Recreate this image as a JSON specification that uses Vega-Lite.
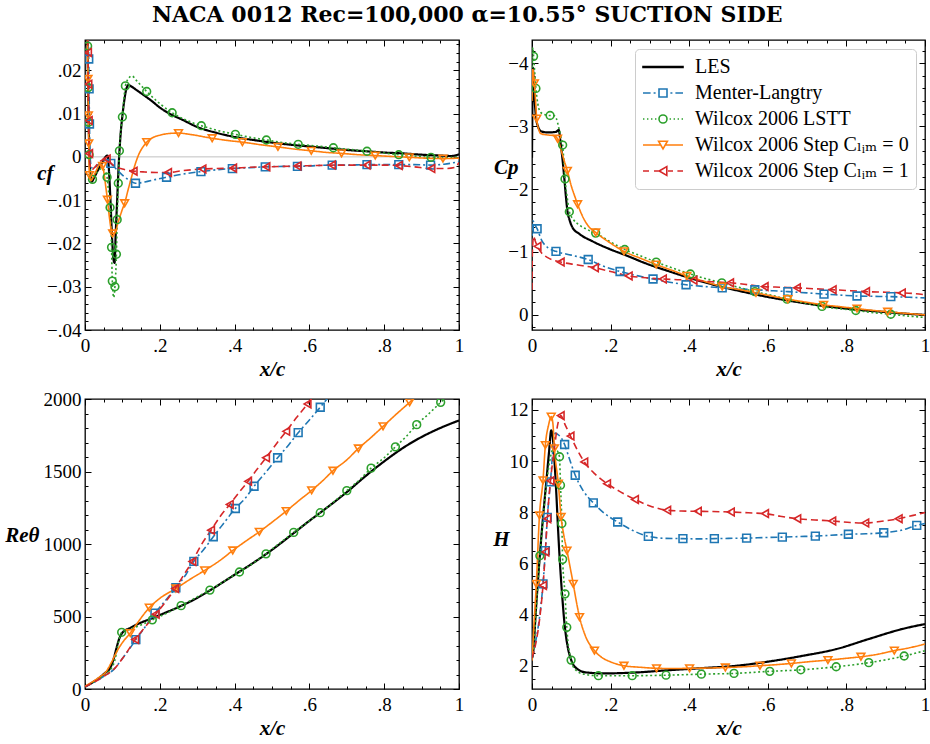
{
  "$schema": "https://vega.github.io/schema/vega-lite/v6.json",
  "padding": {"left": 4, "top": 3, "right": 0, "bottom": 0},
  "title": {"text": "NACA 0012 Rec=100,000 α=10.55° SUCTION SIDE", "anchor": "middle", "offset": 8},
  "datasets": {
    "d": [
      {"p":"cf","m":"L","x":0.002,"y":0.045},{"p":"cf","m":"L","x":0.006,"y":0.03},{"p":"cf","m":"L","x":0.009,"y":0.012},{"p":"cf","m":"L","x":0.012,"y":0.0},{"p":"cf","m":"L","x":0.015,"y":-0.0045},{"p":"cf","m":"L","x":0.018,"y":-0.0057},{"p":"cf","m":"L","x":0.025,"y":-0.0047},{"p":"cf","m":"L","x":0.035,"y":-0.003},{"p":"cf","m":"L","x":0.045,"y":-0.0015},{"p":"cf","m":"L","x":0.055,"y":0.0},{"p":"cf","m":"L","x":0.06,"y":0.0003},{"p":"cf","m":"L","x":0.064,"y":-0.003},{"p":"cf","m":"L","x":0.068,"y":-0.01},{"p":"cf","m":"L","x":0.072,"y":-0.018},{"p":"cf","m":"L","x":0.076,"y":-0.0235},{"p":"cf","m":"L","x":0.079,"y":-0.0245},{"p":"cf","m":"L","x":0.082,"y":-0.018},{"p":"cf","m":"L","x":0.086,"y":-0.01},{"p":"cf","m":"L","x":0.09,"y":-0.002},{"p":"cf","m":"L","x":0.095,"y":0.005},{"p":"cf","m":"L","x":0.1,"y":0.0095},{"p":"cf","m":"L","x":0.105,"y":0.013},{"p":"cf","m":"L","x":0.11,"y":0.0155},{"p":"cf","m":"L","x":0.116,"y":0.0166},{"p":"cf","m":"L","x":0.125,"y":0.0162},{"p":"cf","m":"L","x":0.14,"y":0.0153},{"p":"cf","m":"L","x":0.16,"y":0.0141},{"p":"cf","m":"L","x":0.18,"y":0.0128},{"p":"cf","m":"L","x":0.2,"y":0.0114},{"p":"cf","m":"L","x":0.23,"y":0.0098},{"p":"cf","m":"L","x":0.26,"y":0.0086},{"p":"cf","m":"L","x":0.3,"y":0.0069},{"p":"cf","m":"L","x":0.35,"y":0.0056},{"p":"cf","m":"L","x":0.4,"y":0.0046},{"p":"cf","m":"L","x":0.45,"y":0.0039},{"p":"cf","m":"L","x":0.5,"y":0.0033},{"p":"cf","m":"L","x":0.55,"y":0.0028},{"p":"cf","m":"L","x":0.6,"y":0.0024},{"p":"cf","m":"L","x":0.65,"y":0.002},{"p":"cf","m":"L","x":0.7,"y":0.0016},{"p":"cf","m":"L","x":0.75,"y":0.0013},{"p":"cf","m":"L","x":0.8,"y":0.001},{"p":"cf","m":"L","x":0.85,"y":0.0008},{"p":"cf","m":"L","x":0.9,"y":0.0005},{"p":"cf","m":"L","x":0.95,"y":0.0003},{"p":"cf","m":"L","x":0.98,"y":0.0002},{"p":"cf","m":"L","x":1.0,"y":0.0006},

      {"p":"cf","m":"ML","x":0.002,"y":0.045},{"p":"cf","m":"ML","x":0.008,"y":0.03},{"p":"cf","m":"ML","x":0.01,"y":0.0226,"k":1},{"p":"cf","m":"ML","x":0.011,"y":0.0157,"k":1},{"p":"cf","m":"ML","x":0.012,"y":0.0076,"k":1},{"p":"cf","m":"ML","x":0.0135,"y":0.0005},{"p":"cf","m":"ML","x":0.017,"y":-0.0025},{"p":"cf","m":"ML","x":0.025,"y":-0.0025},{"p":"cf","m":"ML","x":0.035,"y":-0.0018},{"p":"cf","m":"ML","x":0.045,"y":-0.0012},{"p":"cf","m":"ML","x":0.055,"y":-0.0008},{"p":"cf","m":"ML","x":0.062,"y":-0.0008},{"p":"cf","m":"ML","x":0.069,"y":-0.0015,"k":1},{"p":"cf","m":"ML","x":0.08,"y":-0.0025},{"p":"cf","m":"ML","x":0.1,"y":-0.0042},{"p":"cf","m":"ML","x":0.12,"y":-0.0055},{"p":"cf","m":"ML","x":0.135,"y":-0.0061,"k":1},{"p":"cf","m":"ML","x":0.16,"y":-0.0058},{"p":"cf","m":"ML","x":0.19,"y":-0.0052},{"p":"cf","m":"ML","x":0.218,"y":-0.0047,"k":1},{"p":"cf","m":"ML","x":0.26,"y":-0.004},{"p":"cf","m":"ML","x":0.31,"y":-0.0034,"k":1},{"p":"cf","m":"ML","x":0.35,"y":-0.003},{"p":"cf","m":"ML","x":0.394,"y":-0.0027,"k":1},{"p":"cf","m":"ML","x":0.44,"y":-0.0025},{"p":"cf","m":"ML","x":0.482,"y":-0.0023,"k":1},{"p":"cf","m":"ML","x":0.53,"y":-0.0022},{"p":"cf","m":"ML","x":0.568,"y":-0.0022,"k":1},{"p":"cf","m":"ML","x":0.62,"y":-0.002},{"p":"cf","m":"ML","x":0.661,"y":-0.0019,"k":1},{"p":"cf","m":"ML","x":0.7,"y":-0.0019},{"p":"cf","m":"ML","x":0.754,"y":-0.0018,"k":1},{"p":"cf","m":"ML","x":0.8,"y":-0.0018},{"p":"cf","m":"ML","x":0.839,"y":-0.0018,"k":1},{"p":"cf","m":"ML","x":0.88,"y":-0.0018},{"p":"cf","m":"ML","x":0.924,"y":-0.0019,"k":1},{"p":"cf","m":"ML","x":0.96,"y":-0.0017},{"p":"cf","m":"ML","x":1.0,"y":-0.0011},

      {"p":"cf","m":"LSTT","x":0.002,"y":0.045},{"p":"cf","m":"LSTT","x":0.007,"y":0.0256,"k":1},{"p":"cf","m":"LSTT","x":0.0085,"y":0.016,"k":1},{"p":"cf","m":"LSTT","x":0.0095,"y":0.008,"k":1},{"p":"cf","m":"LSTT","x":0.011,"y":0.0005,"k":1},{"p":"cf","m":"LSTT","x":0.015,"y":-0.004},{"p":"cf","m":"LSTT","x":0.02,"y":-0.0052,"k":1},{"p":"cf","m":"LSTT","x":0.03,"y":-0.0038},{"p":"cf","m":"LSTT","x":0.045,"y":-0.0027},{"p":"cf","m":"LSTT","x":0.054,"y":-0.0033},{"p":"cf","m":"LSTT","x":0.059,"y":-0.0047,"k":1},{"p":"cf","m":"LSTT","x":0.063,"y":-0.008},{"p":"cf","m":"LSTT","x":0.067,"y":-0.0117,"k":1},{"p":"cf","m":"LSTT","x":0.071,"y":-0.0209,"k":1},{"p":"cf","m":"LSTT","x":0.073,"y":-0.0287,"k":1},{"p":"cf","m":"LSTT","x":0.077,"y":-0.0325},{"p":"cf","m":"LSTT","x":0.08,"y":-0.03,"k":1},{"p":"cf","m":"LSTT","x":0.084,"y":-0.0225,"k":1},{"p":"cf","m":"LSTT","x":0.086,"y":-0.0145,"k":1},{"p":"cf","m":"LSTT","x":0.089,"y":-0.0061,"k":1},{"p":"cf","m":"LSTT","x":0.092,"y":0.0014,"k":1},{"p":"cf","m":"LSTT","x":0.1,"y":0.0092,"k":1},{"p":"cf","m":"LSTT","x":0.108,"y":0.0164,"k":1},{"p":"cf","m":"LSTT","x":0.118,"y":0.0183},{"p":"cf","m":"LSTT","x":0.125,"y":0.0187},{"p":"cf","m":"LSTT","x":0.14,"y":0.0174},{"p":"cf","m":"LSTT","x":0.165,"y":0.0151,"k":1},{"p":"cf","m":"LSTT","x":0.2,"y":0.0123},{"p":"cf","m":"LSTT","x":0.233,"y":0.0102,"k":1},{"p":"cf","m":"LSTT","x":0.27,"y":0.0085},{"p":"cf","m":"LSTT","x":0.311,"y":0.0072,"k":1},{"p":"cf","m":"LSTT","x":0.35,"y":0.0062},{"p":"cf","m":"LSTT","x":0.402,"y":0.0052,"k":1},{"p":"cf","m":"LSTT","x":0.45,"y":0.0044},{"p":"cf","m":"LSTT","x":0.485,"y":0.0039,"k":1},{"p":"cf","m":"LSTT","x":0.53,"y":0.0033},{"p":"cf","m":"LSTT","x":0.57,"y":0.0029,"k":1},{"p":"cf","m":"LSTT","x":0.62,"y":0.0025},{"p":"cf","m":"LSTT","x":0.664,"y":0.0021,"k":1},{"p":"cf","m":"LSTT","x":0.71,"y":0.0017},{"p":"cf","m":"LSTT","x":0.754,"y":0.0013,"k":1},{"p":"cf","m":"LSTT","x":0.8,"y":0.0009},{"p":"cf","m":"LSTT","x":0.839,"y":0.0005,"k":1},{"p":"cf","m":"LSTT","x":0.88,"y":0.0002},{"p":"cf","m":"LSTT","x":0.925,"y":-0.0001,"k":1},{"p":"cf","m":"LSTT","x":0.96,"y":-0.0002},{"p":"cf","m":"LSTT","x":1.0,"y":0.0},

      {"p":"cf","m":"S0","x":0.002,"y":0.045},{"p":"cf","m":"S0","x":0.007,"y":0.025},{"p":"cf","m":"S0","x":0.008,"y":0.018,"k":1},{"p":"cf","m":"S0","x":0.009,"y":0.0096,"k":1},{"p":"cf","m":"S0","x":0.01,"y":0.0031,"k":1},{"p":"cf","m":"S0","x":0.012,"y":-0.0042,"k":1},{"p":"cf","m":"S0","x":0.016,"y":-0.0055},{"p":"cf","m":"S0","x":0.02,"y":-0.005},{"p":"cf","m":"S0","x":0.03,"y":-0.0032},{"p":"cf","m":"S0","x":0.04,"y":-0.0017},{"p":"cf","m":"S0","x":0.047,"y":-0.0021,"k":1},{"p":"cf","m":"S0","x":0.052,"y":-0.0045},{"p":"cf","m":"S0","x":0.056,"y":-0.0072},{"p":"cf","m":"S0","x":0.06,"y":-0.0099,"k":1},{"p":"cf","m":"S0","x":0.065,"y":-0.0138},{"p":"cf","m":"S0","x":0.07,"y":-0.0168},{"p":"cf","m":"S0","x":0.074,"y":-0.0177,"k":1},{"p":"cf","m":"S0","x":0.08,"y":-0.0174},{"p":"cf","m":"S0","x":0.09,"y":-0.0147},{"p":"cf","m":"S0","x":0.1,"y":-0.0121},{"p":"cf","m":"S0","x":0.106,"y":-0.0107,"k":1},{"p":"cf","m":"S0","x":0.115,"y":-0.0077},{"p":"cf","m":"S0","x":0.125,"y":-0.0045},{"p":"cf","m":"S0","x":0.135,"y":-0.0015},{"p":"cf","m":"S0","x":0.145,"y":0.0008},{"p":"cf","m":"S0","x":0.155,"y":0.0023},{"p":"cf","m":"S0","x":0.165,"y":0.0034,"k":1},{"p":"cf","m":"S0","x":0.18,"y":0.0044},{"p":"cf","m":"S0","x":0.2,"y":0.005},{"p":"cf","m":"S0","x":0.225,"y":0.0054},{"p":"cf","m":"S0","x":0.25,"y":0.0055,"k":1},{"p":"cf","m":"S0","x":0.28,"y":0.0052},{"p":"cf","m":"S0","x":0.34,"y":0.0043,"k":1},{"p":"cf","m":"S0","x":0.38,"y":0.0038},{"p":"cf","m":"S0","x":0.421,"y":0.0034,"k":1},{"p":"cf","m":"S0","x":0.47,"y":0.0028},{"p":"cf","m":"S0","x":0.516,"y":0.0023,"k":1},{"p":"cf","m":"S0","x":0.56,"y":0.0018},{"p":"cf","m":"S0","x":0.605,"y":0.0014,"k":1},{"p":"cf","m":"S0","x":0.65,"y":0.001},{"p":"cf","m":"S0","x":0.686,"y":0.0008,"k":1},{"p":"cf","m":"S0","x":0.73,"y":0.0005},{"p":"cf","m":"S0","x":0.776,"y":0.0003,"k":1},{"p":"cf","m":"S0","x":0.82,"y":0.0001},{"p":"cf","m":"S0","x":0.867,"y":-0.0001,"k":1},{"p":"cf","m":"S0","x":0.91,"y":-0.0003},{"p":"cf","m":"S0","x":0.957,"y":-0.0004,"k":1},{"p":"cf","m":"S0","x":1.0,"y":-0.0003},

      {"p":"cf","m":"S1","x":0.002,"y":0.045},{"p":"cf","m":"S1","x":0.007,"y":0.03},{"p":"cf","m":"S1","x":0.008,"y":0.0241,"k":1},{"p":"cf","m":"S1","x":0.009,"y":0.0168,"k":1},{"p":"cf","m":"S1","x":0.01,"y":0.0084,"k":1},{"p":"cf","m":"S1","x":0.011,"y":0.0008,"k":1},{"p":"cf","m":"S1","x":0.014,"y":-0.002},{"p":"cf","m":"S1","x":0.018,"y":-0.003},{"p":"cf","m":"S1","x":0.025,"y":-0.0025},{"p":"cf","m":"S1","x":0.035,"y":-0.0015},{"p":"cf","m":"S1","x":0.045,"y":-0.0008},{"p":"cf","m":"S1","x":0.058,"y":-0.0005,"k":1},{"p":"cf","m":"S1","x":0.07,"y":-0.0015},{"p":"cf","m":"S1","x":0.08,"y":-0.0022},{"p":"cf","m":"S1","x":0.1,"y":-0.0028},{"p":"cf","m":"S1","x":0.13,"y":-0.0033,"k":1},{"p":"cf","m":"S1","x":0.16,"y":-0.0035},{"p":"cf","m":"S1","x":0.19,"y":-0.0036},{"p":"cf","m":"S1","x":0.222,"y":-0.0036,"k":1},{"p":"cf","m":"S1","x":0.26,"y":-0.0032},{"p":"cf","m":"S1","x":0.314,"y":-0.0028,"k":1},{"p":"cf","m":"S1","x":0.35,"y":-0.0027},{"p":"cf","m":"S1","x":0.396,"y":-0.0026,"k":1},{"p":"cf","m":"S1","x":0.44,"y":-0.0024},{"p":"cf","m":"S1","x":0.485,"y":-0.0023,"k":1},{"p":"cf","m":"S1","x":0.53,"y":-0.0022},{"p":"cf","m":"S1","x":0.568,"y":-0.0021,"k":1},{"p":"cf","m":"S1","x":0.62,"y":-0.002},{"p":"cf","m":"S1","x":0.66,"y":-0.0019,"k":1},{"p":"cf","m":"S1","x":0.7,"y":-0.0019},{"p":"cf","m":"S1","x":0.753,"y":-0.0019,"k":1},{"p":"cf","m":"S1","x":0.8,"y":-0.0019},{"p":"cf","m":"S1","x":0.839,"y":-0.002,"k":1},{"p":"cf","m":"S1","x":0.88,"y":-0.0023},{"p":"cf","m":"S1","x":0.926,"y":-0.0027,"k":1},{"p":"cf","m":"S1","x":0.96,"y":-0.0027},{"p":"cf","m":"S1","x":0.99,"y":-0.0024},{"p":"cf","m":"S1","x":1.0,"y":-0.0013},

      {"p":"cp","m":"L","x":0.0,"y":-2.5},{"p":"cp","m":"L","x":0.001,"y":-3.3},{"p":"cp","m":"L","x":0.002,"y":-3.93},{"p":"cp","m":"L","x":0.005,"y":-3.6},{"p":"cp","m":"L","x":0.01,"y":-3.15},{"p":"cp","m":"L","x":0.015,"y":-3.0},{"p":"cp","m":"L","x":0.023,"y":-2.92},{"p":"cp","m":"L","x":0.04,"y":-2.9},{"p":"cp","m":"L","x":0.061,"y":-2.91},{"p":"cp","m":"L","x":0.068,"y":-2.94},{"p":"cp","m":"L","x":0.073,"y":-2.72},{"p":"cp","m":"L","x":0.078,"y":-2.45},{"p":"cp","m":"L","x":0.082,"y":-2.19},{"p":"cp","m":"L","x":0.086,"y":-1.9},{"p":"cp","m":"L","x":0.09,"y":-1.66},{"p":"cp","m":"L","x":0.096,"y":-1.5},{"p":"cp","m":"L","x":0.103,"y":-1.39},{"p":"cp","m":"L","x":0.12,"y":-1.29},{"p":"cp","m":"L","x":0.154,"y":-1.17},{"p":"cp","m":"L","x":0.2,"y":-1.04},{"p":"cp","m":"L","x":0.238,"y":-0.95},{"p":"cp","m":"L","x":0.289,"y":-0.82},{"p":"cp","m":"L","x":0.35,"y":-0.69},{"p":"cp","m":"L","x":0.4,"y":-0.59},{"p":"cp","m":"L","x":0.45,"y":-0.5},{"p":"cp","m":"L","x":0.5,"y":-0.42},{"p":"cp","m":"L","x":0.55,"y":-0.35},{"p":"cp","m":"L","x":0.6,"y":-0.285},{"p":"cp","m":"L","x":0.65,"y":-0.23},{"p":"cp","m":"L","x":0.7,"y":-0.18},{"p":"cp","m":"L","x":0.75,"y":-0.135},{"p":"cp","m":"L","x":0.8,"y":-0.1},{"p":"cp","m":"L","x":0.85,"y":-0.07},{"p":"cp","m":"L","x":0.9,"y":-0.045},{"p":"cp","m":"L","x":0.95,"y":-0.02},{"p":"cp","m":"L","x":1.0,"y":0.0},

      {"p":"cp","m":"ML","x":0.0,"y":-1.1},{"p":"cp","m":"ML","x":0.002,"y":-1.5},{"p":"cp","m":"ML","x":0.006,"y":-1.45},{"p":"cp","m":"ML","x":0.013,"y":-1.37,"k":1},{"p":"cp","m":"ML","x":0.025,"y":-1.18},{"p":"cp","m":"ML","x":0.04,"y":-1.07},{"p":"cp","m":"ML","x":0.061,"y":-1.01,"k":1},{"p":"cp","m":"ML","x":0.1,"y":-0.95},{"p":"cp","m":"ML","x":0.143,"y":-0.88,"k":1},{"p":"cp","m":"ML","x":0.18,"y":-0.78},{"p":"cp","m":"ML","x":0.224,"y":-0.69,"k":1},{"p":"cp","m":"ML","x":0.27,"y":-0.62},{"p":"cp","m":"ML","x":0.308,"y":-0.57,"k":1},{"p":"cp","m":"ML","x":0.35,"y":-0.52},{"p":"cp","m":"ML","x":0.392,"y":-0.48,"k":1},{"p":"cp","m":"ML","x":0.44,"y":-0.45},{"p":"cp","m":"ML","x":0.484,"y":-0.43,"k":1},{"p":"cp","m":"ML","x":0.525,"y":-0.415},{"p":"cp","m":"ML","x":0.567,"y":-0.4,"k":1},{"p":"cp","m":"ML","x":0.61,"y":-0.385},{"p":"cp","m":"ML","x":0.651,"y":-0.37,"k":1},{"p":"cp","m":"ML","x":0.7,"y":-0.35},{"p":"cp","m":"ML","x":0.743,"y":-0.33,"k":1},{"p":"cp","m":"ML","x":0.785,"y":-0.315},{"p":"cp","m":"ML","x":0.827,"y":-0.3,"k":1},{"p":"cp","m":"ML","x":0.87,"y":-0.295},{"p":"cp","m":"ML","x":0.913,"y":-0.29,"k":1},{"p":"cp","m":"ML","x":0.96,"y":-0.28},{"p":"cp","m":"ML","x":1.0,"y":-0.27},

      {"p":"cp","m":"LSTT","x":0.0,"y":-3.5},{"p":"cp","m":"LSTT","x":0.002,"y":-4.25},{"p":"cp","m":"LSTT","x":0.004,"y":-4.11,"k":1},{"p":"cp","m":"LSTT","x":0.007,"y":-3.85},{"p":"cp","m":"LSTT","x":0.01,"y":-3.6,"k":1},{"p":"cp","m":"LSTT","x":0.015,"y":-3.35},{"p":"cp","m":"LSTT","x":0.022,"y":-3.22},{"p":"cp","m":"LSTT","x":0.035,"y":-3.18},{"p":"cp","m":"LSTT","x":0.046,"y":-3.17,"k":1},{"p":"cp","m":"LSTT","x":0.055,"y":-3.17},{"p":"cp","m":"LSTT","x":0.062,"y":-3.12},{"p":"cp","m":"LSTT","x":0.068,"y":-2.98},{"p":"cp","m":"LSTT","x":0.074,"y":-2.82},{"p":"cp","m":"LSTT","x":0.078,"y":-2.7,"k":1},{"p":"cp","m":"LSTT","x":0.081,"y":-2.45},{"p":"cp","m":"LSTT","x":0.084,"y":-2.16,"k":1},{"p":"cp","m":"LSTT","x":0.09,"y":-1.85},{"p":"cp","m":"LSTT","x":0.095,"y":-1.64,"k":1},{"p":"cp","m":"LSTT","x":0.105,"y":-1.52},{"p":"cp","m":"LSTT","x":0.12,"y":-1.43},{"p":"cp","m":"LSTT","x":0.14,"y":-1.36},{"p":"cp","m":"LSTT","x":0.162,"y":-1.3,"k":1},{"p":"cp","m":"LSTT","x":0.2,"y":-1.16},{"p":"cp","m":"LSTT","x":0.236,"y":-1.04,"k":1},{"p":"cp","m":"LSTT","x":0.28,"y":-0.93},{"p":"cp","m":"LSTT","x":0.316,"y":-0.84,"k":1},{"p":"cp","m":"LSTT","x":0.36,"y":-0.74},{"p":"cp","m":"LSTT","x":0.403,"y":-0.65,"k":1},{"p":"cp","m":"LSTT","x":0.44,"y":-0.58},{"p":"cp","m":"LSTT","x":0.483,"y":-0.51,"k":1},{"p":"cp","m":"LSTT","x":0.525,"y":-0.44},{"p":"cp","m":"LSTT","x":0.567,"y":-0.37,"k":1},{"p":"cp","m":"LSTT","x":0.61,"y":-0.31},{"p":"cp","m":"LSTT","x":0.649,"y":-0.25,"k":1},{"p":"cp","m":"LSTT","x":0.7,"y":-0.18},{"p":"cp","m":"LSTT","x":0.738,"y":-0.135,"k":1},{"p":"cp","m":"LSTT","x":0.78,"y":-0.1},{"p":"cp","m":"LSTT","x":0.824,"y":-0.07,"k":1},{"p":"cp","m":"LSTT","x":0.87,"y":-0.035},{"p":"cp","m":"LSTT","x":0.913,"y":-0.01,"k":1},{"p":"cp","m":"LSTT","x":0.96,"y":0.02},{"p":"cp","m":"LSTT","x":1.0,"y":0.04},

      {"p":"cp","m":"S0","x":0.0,"y":-3.4},{"p":"cp","m":"S0","x":0.002,"y":-3.9},{"p":"cp","m":"S0","x":0.006,"y":-3.68,"k":1},{"p":"cp","m":"S0","x":0.009,"y":-3.4},{"p":"cp","m":"S0","x":0.012,"y":-3.12,"k":1},{"p":"cp","m":"S0","x":0.017,"y":-2.95},{"p":"cp","m":"S0","x":0.023,"y":-2.88},{"p":"cp","m":"S0","x":0.04,"y":-2.86},{"p":"cp","m":"S0","x":0.055,"y":-2.85},{"p":"cp","m":"S0","x":0.065,"y":-2.8,"k":1},{"p":"cp","m":"S0","x":0.075,"y":-2.6},{"p":"cp","m":"S0","x":0.082,"y":-2.45},{"p":"cp","m":"S0","x":0.09,"y":-2.29,"k":1},{"p":"cp","m":"S0","x":0.1,"y":-2.05},{"p":"cp","m":"S0","x":0.108,"y":-1.9},{"p":"cp","m":"S0","x":0.116,"y":-1.76,"k":1},{"p":"cp","m":"S0","x":0.13,"y":-1.55},{"p":"cp","m":"S0","x":0.145,"y":-1.4},{"p":"cp","m":"S0","x":0.162,"y":-1.31,"k":1},{"p":"cp","m":"S0","x":0.2,"y":-1.14},{"p":"cp","m":"S0","x":0.234,"y":-1.01,"k":1},{"p":"cp","m":"S0","x":0.28,"y":-0.89},{"p":"cp","m":"S0","x":0.316,"y":-0.8,"k":1},{"p":"cp","m":"S0","x":0.36,"y":-0.7},{"p":"cp","m":"S0","x":0.394,"y":-0.62,"k":1},{"p":"cp","m":"S0","x":0.44,"y":-0.53},{"p":"cp","m":"S0","x":0.484,"y":-0.45,"k":1},{"p":"cp","m":"S0","x":0.53,"y":-0.4},{"p":"cp","m":"S0","x":0.57,"y":-0.35,"k":1},{"p":"cp","m":"S0","x":0.61,"y":-0.3},{"p":"cp","m":"S0","x":0.651,"y":-0.25,"k":1},{"p":"cp","m":"S0","x":0.7,"y":-0.2},{"p":"cp","m":"S0","x":0.742,"y":-0.16,"k":1},{"p":"cp","m":"S0","x":0.785,"y":-0.13},{"p":"cp","m":"S0","x":0.827,"y":-0.1,"k":1},{"p":"cp","m":"S0","x":0.87,"y":-0.07},{"p":"cp","m":"S0","x":0.905,"y":-0.05,"k":1},{"p":"cp","m":"S0","x":0.95,"y":-0.025},{"p":"cp","m":"S0","x":1.0,"y":0.0},

      {"p":"cp","m":"S1","x":0.0,"y":-0.4},{"p":"cp","m":"S1","x":0.001,"y":-1.0},{"p":"cp","m":"S1","x":0.004,"y":-1.25},{"p":"cp","m":"S1","x":0.008,"y":-1.18},{"p":"cp","m":"S1","x":0.014,"y":-1.09,"k":1},{"p":"cp","m":"S1","x":0.025,"y":-0.98},{"p":"cp","m":"S1","x":0.04,"y":-0.91},{"p":"cp","m":"S1","x":0.073,"y":-0.84,"k":1},{"p":"cp","m":"S1","x":0.11,"y":-0.8},{"p":"cp","m":"S1","x":0.16,"y":-0.75,"k":1},{"p":"cp","m":"S1","x":0.2,"y":-0.69},{"p":"cp","m":"S1","x":0.246,"y":-0.62,"k":1},{"p":"cp","m":"S1","x":0.29,"y":-0.59},{"p":"cp","m":"S1","x":0.333,"y":-0.57,"k":1},{"p":"cp","m":"S1","x":0.37,"y":-0.56},{"p":"cp","m":"S1","x":0.411,"y":-0.55,"k":1},{"p":"cp","m":"S1","x":0.45,"y":-0.53},{"p":"cp","m":"S1","x":0.504,"y":-0.51,"k":1},{"p":"cp","m":"S1","x":0.55,"y":-0.48},{"p":"cp","m":"S1","x":0.592,"y":-0.45,"k":1},{"p":"cp","m":"S1","x":0.63,"y":-0.44},{"p":"cp","m":"S1","x":0.674,"y":-0.43,"k":1},{"p":"cp","m":"S1","x":0.72,"y":-0.415},{"p":"cp","m":"S1","x":0.765,"y":-0.4,"k":1},{"p":"cp","m":"S1","x":0.81,"y":-0.385},{"p":"cp","m":"S1","x":0.85,"y":-0.37,"k":1},{"p":"cp","m":"S1","x":0.9,"y":-0.36},{"p":"cp","m":"S1","x":0.941,"y":-0.35,"k":1},{"p":"cp","m":"S1","x":0.97,"y":-0.34},{"p":"cp","m":"S1","x":1.0,"y":-0.32},

      {"p":"re","m":"L","x":0.0,"y":15},{"p":"re","m":"L","x":0.02,"y":45},{"p":"re","m":"L","x":0.04,"y":80},{"p":"re","m":"L","x":0.055,"y":114},{"p":"re","m":"L","x":0.065,"y":135},{"p":"re","m":"L","x":0.07,"y":160},{"p":"re","m":"L","x":0.078,"y":220},{"p":"re","m":"L","x":0.085,"y":290},{"p":"re","m":"L","x":0.092,"y":350},{"p":"re","m":"L","x":0.1,"y":388},{"p":"re","m":"L","x":0.12,"y":420},{"p":"re","m":"L","x":0.15,"y":458},{"p":"re","m":"L","x":0.18,"y":488},{"p":"re","m":"L","x":0.2,"y":510},{"p":"re","m":"L","x":0.25,"y":565},{"p":"re","m":"L","x":0.3,"y":628},{"p":"re","m":"L","x":0.334,"y":680},{"p":"re","m":"L","x":0.4,"y":788},{"p":"re","m":"L","x":0.45,"y":870},{"p":"re","m":"L","x":0.5,"y":960},{"p":"re","m":"L","x":0.558,"y":1075},{"p":"re","m":"L","x":0.6,"y":1160},{"p":"re","m":"L","x":0.629,"y":1216},{"p":"re","m":"L","x":0.7,"y":1358},{"p":"re","m":"L","x":0.75,"y":1468},{"p":"re","m":"L","x":0.8,"y":1570},{"p":"re","m":"L","x":0.85,"y":1662},{"p":"re","m":"L","x":0.9,"y":1738},{"p":"re","m":"L","x":0.95,"y":1800},{"p":"re","m":"L","x":1.0,"y":1852},

      {"p":"re","m":"ML","x":0.0,"y":15},{"p":"re","m":"ML","x":0.03,"y":55},{"p":"re","m":"ML","x":0.055,"y":95},{"p":"re","m":"ML","x":0.075,"y":130},{"p":"re","m":"ML","x":0.1,"y":210},{"p":"re","m":"ML","x":0.12,"y":280},{"p":"re","m":"ML","x":0.136,"y":341,"k":1},{"p":"re","m":"ML","x":0.16,"y":425},{"p":"re","m":"ML","x":0.187,"y":523,"k":1},{"p":"re","m":"ML","x":0.215,"y":610},{"p":"re","m":"ML","x":0.243,"y":698,"k":1},{"p":"re","m":"ML","x":0.27,"y":790},{"p":"re","m":"ML","x":0.291,"y":880,"k":1},{"p":"re","m":"ML","x":0.32,"y":970},{"p":"re","m":"ML","x":0.343,"y":1050,"k":1},{"p":"re","m":"ML","x":0.37,"y":1140},{"p":"re","m":"ML","x":0.402,"y":1245,"k":1},{"p":"re","m":"ML","x":0.43,"y":1320},{"p":"re","m":"ML","x":0.452,"y":1398,"k":1},{"p":"re","m":"ML","x":0.485,"y":1500},{"p":"re","m":"ML","x":0.515,"y":1595,"k":1},{"p":"re","m":"ML","x":0.545,"y":1685},{"p":"re","m":"ML","x":0.57,"y":1768,"k":1},{"p":"re","m":"ML","x":0.6,"y":1855},{"p":"re","m":"ML","x":0.629,"y":1943,"k":1},{"p":"re","m":"ML","x":0.65,"y":2010},

      {"p":"re","m":"LSTT","x":0.0,"y":15},{"p":"re","m":"LSTT","x":0.03,"y":60},{"p":"re","m":"LSTT","x":0.055,"y":105},{"p":"re","m":"LSTT","x":0.07,"y":140},{"p":"re","m":"LSTT","x":0.08,"y":200},{"p":"re","m":"LSTT","x":0.09,"y":330},{"p":"re","m":"LSTT","x":0.098,"y":391,"k":1},{"p":"re","m":"LSTT","x":0.12,"y":412},{"p":"re","m":"LSTT","x":0.15,"y":442},{"p":"re","m":"LSTT","x":0.18,"y":477,"k":1},{"p":"re","m":"LSTT","x":0.22,"y":525},{"p":"re","m":"LSTT","x":0.257,"y":575,"k":1},{"p":"re","m":"LSTT","x":0.3,"y":635},{"p":"re","m":"LSTT","x":0.334,"y":682,"k":1},{"p":"re","m":"LSTT","x":0.37,"y":740},{"p":"re","m":"LSTT","x":0.413,"y":807,"k":1},{"p":"re","m":"LSTT","x":0.45,"y":868},{"p":"re","m":"LSTT","x":0.484,"y":932,"k":1},{"p":"re","m":"LSTT","x":0.52,"y":1005},{"p":"re","m":"LSTT","x":0.558,"y":1080,"k":1},{"p":"re","m":"LSTT","x":0.6,"y":1160},{"p":"re","m":"LSTT","x":0.629,"y":1216,"k":1},{"p":"re","m":"LSTT","x":0.665,"y":1290},{"p":"re","m":"LSTT","x":0.7,"y":1368,"k":1},{"p":"re","m":"LSTT","x":0.735,"y":1445},{"p":"re","m":"LSTT","x":0.765,"y":1523,"k":1},{"p":"re","m":"LSTT","x":0.8,"y":1595},{"p":"re","m":"LSTT","x":0.83,"y":1670,"k":1},{"p":"re","m":"LSTT","x":0.86,"y":1745},{"p":"re","m":"LSTT","x":0.887,"y":1823,"k":1},{"p":"re","m":"LSTT","x":0.92,"y":1900},{"p":"re","m":"LSTT","x":0.951,"y":1977,"k":1},{"p":"re","m":"LSTT","x":0.98,"y":2050},

      {"p":"re","m":"S0","x":0.0,"y":20},{"p":"re","m":"S0","x":0.02,"y":50},{"p":"re","m":"S0","x":0.04,"y":85},{"p":"re","m":"S0","x":0.055,"y":115},{"p":"re","m":"S0","x":0.07,"y":180},{"p":"re","m":"S0","x":0.085,"y":258},{"p":"re","m":"S0","x":0.1,"y":320},{"p":"re","m":"S0","x":0.121,"y":386,"k":1},{"p":"re","m":"S0","x":0.14,"y":455},{"p":"re","m":"S0","x":0.172,"y":561,"k":1},{"p":"re","m":"S0","x":0.2,"y":625},{"p":"re","m":"S0","x":0.243,"y":693,"k":1},{"p":"re","m":"S0","x":0.28,"y":755},{"p":"re","m":"S0","x":0.32,"y":818,"k":1},{"p":"re","m":"S0","x":0.36,"y":885},{"p":"re","m":"S0","x":0.395,"y":955,"k":1},{"p":"re","m":"S0","x":0.43,"y":1020},{"p":"re","m":"S0","x":0.466,"y":1084,"k":1},{"p":"re","m":"S0","x":0.5,"y":1150},{"p":"re","m":"S0","x":0.538,"y":1227,"k":1},{"p":"re","m":"S0","x":0.57,"y":1295},{"p":"re","m":"S0","x":0.606,"y":1370,"k":1},{"p":"re","m":"S0","x":0.635,"y":1435},{"p":"re","m":"S0","x":0.663,"y":1505,"k":1},{"p":"re","m":"S0","x":0.7,"y":1580},{"p":"re","m":"S0","x":0.731,"y":1659,"k":1},{"p":"re","m":"S0","x":0.765,"y":1735},{"p":"re","m":"S0","x":0.797,"y":1811,"k":1},{"p":"re","m":"S0","x":0.83,"y":1890},{"p":"re","m":"S0","x":0.868,"y":1977,"k":1},{"p":"re","m":"S0","x":0.89,"y":2030},

      {"p":"re","m":"S1","x":0.0,"y":15},{"p":"re","m":"S1","x":0.03,"y":55},{"p":"re","m":"S1","x":0.055,"y":95},{"p":"re","m":"S1","x":0.075,"y":130},{"p":"re","m":"S1","x":0.1,"y":210},{"p":"re","m":"S1","x":0.12,"y":285},{"p":"re","m":"S1","x":0.134,"y":341,"k":1},{"p":"re","m":"S1","x":0.16,"y":425},{"p":"re","m":"S1","x":0.189,"y":516,"k":1},{"p":"re","m":"S1","x":0.215,"y":600},{"p":"re","m":"S1","x":0.241,"y":693,"k":1},{"p":"re","m":"S1","x":0.265,"y":790},{"p":"re","m":"S1","x":0.287,"y":880,"k":1},{"p":"re","m":"S1","x":0.31,"y":990},{"p":"re","m":"S1","x":0.337,"y":1095,"k":1},{"p":"re","m":"S1","x":0.36,"y":1185},{"p":"re","m":"S1","x":0.387,"y":1273,"k":1},{"p":"re","m":"S1","x":0.41,"y":1350},{"p":"re","m":"S1","x":0.436,"y":1432,"k":1},{"p":"re","m":"S1","x":0.46,"y":1515},{"p":"re","m":"S1","x":0.484,"y":1595,"k":1},{"p":"re","m":"S1","x":0.51,"y":1685},{"p":"re","m":"S1","x":0.538,"y":1777,"k":1},{"p":"re","m":"S1","x":0.565,"y":1870},{"p":"re","m":"S1","x":0.595,"y":1966,"k":1},{"p":"re","m":"S1","x":0.61,"y":2020},

      {"p":"h","m":"L","x":0.0,"y":2.3},{"p":"h","m":"L","x":0.0025,"y":2.46},{"p":"h","m":"L","x":0.01,"y":4.2},{"p":"h","m":"L","x":0.019,"y":6.12},{"p":"h","m":"L","x":0.028,"y":7.8},{"p":"h","m":"L","x":0.036,"y":9.13},{"p":"h","m":"L","x":0.043,"y":10.3},{"p":"h","m":"L","x":0.049,"y":11.2},{"p":"h","m":"L","x":0.053,"y":10.9},{"p":"h","m":"L","x":0.057,"y":10.04},{"p":"h","m":"L","x":0.062,"y":8.7},{"p":"h","m":"L","x":0.066,"y":7.43},{"p":"h","m":"L","x":0.07,"y":6.3},{"p":"h","m":"L","x":0.074,"y":5.33},{"p":"h","m":"L","x":0.078,"y":4.5},{"p":"h","m":"L","x":0.082,"y":3.76},{"p":"h","m":"L","x":0.087,"y":3.1},{"p":"h","m":"L","x":0.091,"y":2.72},{"p":"h","m":"L","x":0.097,"y":2.35},{"p":"h","m":"L","x":0.103,"y":2.1},{"p":"h","m":"L","x":0.115,"y":1.88},{"p":"h","m":"L","x":0.137,"y":1.74},{"p":"h","m":"L","x":0.184,"y":1.7},{"p":"h","m":"L","x":0.268,"y":1.74},{"p":"h","m":"L","x":0.352,"y":1.83},{"p":"h","m":"L","x":0.437,"y":1.91},{"p":"h","m":"L","x":0.521,"y":2.0},{"p":"h","m":"L","x":0.605,"y":2.17},{"p":"h","m":"L","x":0.69,"y":2.39},{"p":"h","m":"L","x":0.774,"y":2.65},{"p":"h","m":"L","x":0.858,"y":3.05},{"p":"h","m":"L","x":0.943,"y":3.44},{"p":"h","m":"L","x":1.0,"y":3.63},

      {"p":"h","m":"ML","x":0.0,"y":2.3},{"p":"h","m":"ML","x":0.01,"y":3.0},{"p":"h","m":"ML","x":0.02,"y":4.0},{"p":"h","m":"ML","x":0.028,"y":5.2,"k":1},{"p":"h","m":"ML","x":0.034,"y":6.5,"k":1},{"p":"h","m":"ML","x":0.039,"y":7.8,"k":1},{"p":"h","m":"ML","x":0.047,"y":9.19,"k":1},{"p":"h","m":"ML","x":0.053,"y":10.4},{"p":"h","m":"ML","x":0.059,"y":11.1},{"p":"h","m":"ML","x":0.065,"y":11.05},{"p":"h","m":"ML","x":0.075,"y":10.9},{"p":"h","m":"ML","x":0.083,"y":10.65,"k":1},{"p":"h","m":"ML","x":0.095,"y":10.1},{"p":"h","m":"ML","x":0.11,"y":9.45,"k":1},{"p":"h","m":"ML","x":0.13,"y":8.85},{"p":"h","m":"ML","x":0.156,"y":8.37,"k":1},{"p":"h","m":"ML","x":0.185,"y":7.95},{"p":"h","m":"ML","x":0.218,"y":7.62,"k":1},{"p":"h","m":"ML","x":0.255,"y":7.3},{"p":"h","m":"ML","x":0.296,"y":7.06,"k":1},{"p":"h","m":"ML","x":0.34,"y":6.98},{"p":"h","m":"ML","x":0.384,"y":6.97,"k":1},{"p":"h","m":"ML","x":0.42,"y":6.96},{"p":"h","m":"ML","x":0.464,"y":6.97,"k":1},{"p":"h","m":"ML","x":0.5,"y":6.98},{"p":"h","m":"ML","x":0.546,"y":6.99,"k":1},{"p":"h","m":"ML","x":0.59,"y":7.01},{"p":"h","m":"ML","x":0.637,"y":7.03,"k":1},{"p":"h","m":"ML","x":0.68,"y":7.05},{"p":"h","m":"ML","x":0.721,"y":7.07,"k":1},{"p":"h","m":"ML","x":0.76,"y":7.1},{"p":"h","m":"ML","x":0.805,"y":7.14,"k":1},{"p":"h","m":"ML","x":0.85,"y":7.16},{"p":"h","m":"ML","x":0.895,"y":7.2,"k":1},{"p":"h","m":"ML","x":0.94,"y":7.3},{"p":"h","m":"ML","x":0.979,"y":7.49,"k":1},{"p":"h","m":"ML","x":1.0,"y":7.56},

      {"p":"h","m":"LSTT","x":0.0,"y":2.3},{"p":"h","m":"LSTT","x":0.0025,"y":2.4},{"p":"h","m":"LSTT","x":0.01,"y":4.0},{"p":"h","m":"LSTT","x":0.02,"y":6.3,"k":1},{"p":"h","m":"LSTT","x":0.028,"y":7.7},{"p":"h","m":"LSTT","x":0.036,"y":9.0},{"p":"h","m":"LSTT","x":0.045,"y":10.0},{"p":"h","m":"LSTT","x":0.055,"y":10.5},{"p":"h","m":"LSTT","x":0.062,"y":10.45},{"p":"h","m":"LSTT","x":0.07,"y":10.17,"k":1},{"p":"h","m":"LSTT","x":0.0725,"y":9.06,"k":1},{"p":"h","m":"LSTT","x":0.076,"y":7.56,"k":1},{"p":"h","m":"LSTT","x":0.078,"y":6.16,"k":1},{"p":"h","m":"LSTT","x":0.084,"y":4.81,"k":1},{"p":"h","m":"LSTT","x":0.0885,"y":3.5,"k":1},{"p":"h","m":"LSTT","x":0.0995,"y":2.22,"k":1},{"p":"h","m":"LSTT","x":0.11,"y":1.85},{"p":"h","m":"LSTT","x":0.13,"y":1.68},{"p":"h","m":"LSTT","x":0.169,"y":1.61,"k":1},{"p":"h","m":"LSTT","x":0.255,"y":1.61,"k":1},{"p":"h","m":"LSTT","x":0.341,"y":1.63,"k":1},{"p":"h","m":"LSTT","x":0.431,"y":1.67,"k":1},{"p":"h","m":"LSTT","x":0.514,"y":1.7,"k":1},{"p":"h","m":"LSTT","x":0.605,"y":1.78,"k":1},{"p":"h","m":"LSTT","x":0.684,"y":1.84,"k":1},{"p":"h","m":"LSTT","x":0.774,"y":1.96,"k":1},{"p":"h","m":"LSTT","x":0.857,"y":2.12,"k":1},{"p":"h","m":"LSTT","x":0.947,"y":2.38,"k":1},{"p":"h","m":"LSTT","x":1.0,"y":2.59},

      {"p":"h","m":"S0","x":0.0,"y":2.2},{"p":"h","m":"S0","x":0.005,"y":3.6},{"p":"h","m":"S0","x":0.011,"y":5.2,"k":1},{"p":"h","m":"S0","x":0.019,"y":7.88,"k":1},{"p":"h","m":"S0","x":0.028,"y":9.25,"k":1},{"p":"h","m":"S0","x":0.034,"y":10.63,"k":1},{"p":"h","m":"S0","x":0.042,"y":11.4},{"p":"h","m":"S0","x":0.049,"y":11.74,"k":1},{"p":"h","m":"S0","x":0.053,"y":11.5},{"p":"h","m":"S0","x":0.057,"y":10.5,"k":1},{"p":"h","m":"S0","x":0.067,"y":9.12,"k":1},{"p":"h","m":"S0","x":0.074,"y":7.82,"k":1},{"p":"h","m":"S0","x":0.081,"y":7.1},{"p":"h","m":"S0","x":0.089,"y":6.5,"k":1},{"p":"h","m":"S0","x":0.097,"y":5.85},{"p":"h","m":"S0","x":0.105,"y":5.2,"k":1},{"p":"h","m":"S0","x":0.113,"y":4.5},{"p":"h","m":"S0","x":0.121,"y":3.9,"k":1},{"p":"h","m":"S0","x":0.135,"y":3.2},{"p":"h","m":"S0","x":0.159,"y":2.59,"k":1},{"p":"h","m":"S0","x":0.18,"y":2.3},{"p":"h","m":"S0","x":0.2,"y":2.15},{"p":"h","m":"S0","x":0.234,"y":2.0,"k":1},{"p":"h","m":"S0","x":0.275,"y":1.94},{"p":"h","m":"S0","x":0.317,"y":1.9,"k":1},{"p":"h","m":"S0","x":0.36,"y":1.89},{"p":"h","m":"S0","x":0.401,"y":1.9,"k":1},{"p":"h","m":"S0","x":0.45,"y":1.91},{"p":"h","m":"S0","x":0.492,"y":1.93,"k":1},{"p":"h","m":"S0","x":0.54,"y":1.96},{"p":"h","m":"S0","x":0.58,"y":2.0,"k":1},{"p":"h","m":"S0","x":0.62,"y":2.04},{"p":"h","m":"S0","x":0.66,"y":2.09,"k":1},{"p":"h","m":"S0","x":0.7,"y":2.15},{"p":"h","m":"S0","x":0.753,"y":2.22,"k":1},{"p":"h","m":"S0","x":0.8,"y":2.29},{"p":"h","m":"S0","x":0.837,"y":2.35,"k":1},{"p":"h","m":"S0","x":0.88,"y":2.45},{"p":"h","m":"S0","x":0.922,"y":2.59,"k":1},{"p":"h","m":"S0","x":0.96,"y":2.7},{"p":"h","m":"S0","x":1.0,"y":2.85},

      {"p":"h","m":"S1","x":0.0,"y":2.3},{"p":"h","m":"S1","x":0.01,"y":2.9},{"p":"h","m":"S1","x":0.02,"y":3.9},{"p":"h","m":"S1","x":0.028,"y":5.14,"k":1},{"p":"h","m":"S1","x":0.034,"y":6.45,"k":1},{"p":"h","m":"S1","x":0.039,"y":7.75,"k":1},{"p":"h","m":"S1","x":0.047,"y":9.23,"k":1},{"p":"h","m":"S1","x":0.057,"y":10.5},{"p":"h","m":"S1","x":0.065,"y":11.4},{"p":"h","m":"S1","x":0.073,"y":11.78,"k":1},{"p":"h","m":"S1","x":0.085,"y":11.4},{"p":"h","m":"S1","x":0.098,"y":10.98,"k":1},{"p":"h","m":"S1","x":0.115,"y":10.45},{"p":"h","m":"S1","x":0.133,"y":9.97,"k":1},{"p":"h","m":"S1","x":0.16,"y":9.5},{"p":"h","m":"S1","x":0.191,"y":9.12,"k":1},{"p":"h","m":"S1","x":0.225,"y":8.8},{"p":"h","m":"S1","x":0.262,"y":8.5,"k":1},{"p":"h","m":"S1","x":0.3,"y":8.25},{"p":"h","m":"S1","x":0.344,"y":8.08,"k":1},{"p":"h","m":"S1","x":0.38,"y":8.05},{"p":"h","m":"S1","x":0.422,"y":8.04,"k":1},{"p":"h","m":"S1","x":0.46,"y":8.03},{"p":"h","m":"S1","x":0.506,"y":8.01,"k":1},{"p":"h","m":"S1","x":0.55,"y":7.98},{"p":"h","m":"S1","x":0.593,"y":7.95,"k":1},{"p":"h","m":"S1","x":0.63,"y":7.85},{"p":"h","m":"S1","x":0.675,"y":7.75,"k":1},{"p":"h","m":"S1","x":0.72,"y":7.7},{"p":"h","m":"S1","x":0.764,"y":7.66,"k":1},{"p":"h","m":"S1","x":0.81,"y":7.6},{"p":"h","m":"S1","x":0.848,"y":7.58,"k":1},{"p":"h","m":"S1","x":0.89,"y":7.65},{"p":"h","m":"S1","x":0.933,"y":7.75,"k":1},{"p":"h","m":"S1","x":0.97,"y":7.88},{"p":"h","m":"S1","x":1.0,"y":7.99}
    ]
  },
  "vconcat": [
    {
      "hconcat": [
        {
          "width": 374, "height": 290,
          "data": {"name": "d"},
          "transform": [{"filter": "datum.p==='cf'"}],
          "layer": [
            {"data": {"values": [{}]}, "mark": {"type": "rule", "color": "#c0c0c0", "strokeWidth": 1},
             "encoding": {"y": {"datum": 0, "type": "quantitative", "scale": {"domain": [-0.04, 0.027], "nice": false, "zero": false}, "axis": null}}},
            {"mark": {"type": "line", "clip": true, "interpolate": "monotone"},
             "encoding": {
               "x": {"field": "x", "type": "quantitative", "scale": {"domain": [0, 1], "nice": false, "zero": false},
                     "axis": {"orient": "bottom", "values": [0,0.05,0.1,0.15,0.2,0.25,0.3,0.35,0.4,0.45,0.5,0.55,0.6,0.65,0.7,0.75,0.8,0.85,0.9,0.95,1], "labelExpr": "abs(datum.value*5-round(datum.value*5))<1e-6 ? (datum.value<=0 ? '0' : datum.value>=1 ? '1' : replace(format(datum.value,'.1f'),'0.','.')) : ''", "tickSize": {"condition": {"test": "abs(datum.value*5-round(datum.value*5))<1e-6", "value": -6}, "value": -3}, "labelPadding": 12, "title": "x/c", "minExtent": 25, "maxExtent": 25, "titlePadding": 3}},
               "y": {"field": "y", "type": "quantitative", "scale": {"domain": [-0.04, 0.027], "nice": false, "zero": false},
                     "axis": {"orient": "left", "values": [-0.04,-0.038,-0.036,-0.034,-0.032,-0.03,-0.028,-0.026,-0.024,-0.022,-0.02,-0.018,-0.016,-0.014,-0.012,-0.01,-0.008,-0.006,-0.004,-0.002,0,0.002,0.004,0.006,0.008,0.01,0.012,0.014,0.016,0.018,0.02,0.022,0.024,0.026], "labelExpr": "abs(datum.value*100-round(datum.value*100))<1e-6 ? (abs(datum.value)<1e-9 ? '0' : replace(format(datum.value,'.2f'),'0.','.')) : ''", "tickSize": {"condition": {"test": "abs(datum.value*100-round(datum.value*100))<1e-6", "value": -6}, "value": -3}, "labelPadding": 10, "title": "cf", "titleAngle": 0, "titleAlign": "right", "titleBaseline": "middle", "titleY": 133, "minExtent": 30, "maxExtent": 30, "titlePadding": 2}},
               "color": {"field": "m", "type": "nominal", "scale": {"domain": ["L","ML","LSTT","S0","S1"], "range": ["#000000","#1f77b4","#2ca02c","#ff7f0e","#d62728"]}, "legend": null},
               "strokeDash": {"field": "m", "type": "nominal", "scale": {"domain": ["S1","S0","LSTT","ML","L"], "range": [[7,4],[1,0],[2,2.5],[7,3,2,3],[1,0]]}, "legend": null},
               "strokeWidth": {"condition": {"test": "datum.m==='L'", "value": 2.2}, "value": 1.6}
             }},
            {"transform": [{"filter": "datum.k===1"}],
             "mark": {"type": "point", "clip": true, "filled": false, "opacity": 1, "strokeWidth": 1.6, "size": 60},
             "encoding": {
               "x": {"field": "x", "type": "quantitative", "scale": {"domain": [0, 1], "nice": false, "zero": false},
                     "axis": {"orient": "top", "values": [0,0.05,0.1,0.15,0.2,0.25,0.3,0.35,0.4,0.45,0.5,0.55,0.6,0.65,0.7,0.75,0.8,0.85,0.9,0.95,1], "labels": false, "title": null, "tickSize": {"condition": {"test": "abs(datum.value*5-round(datum.value*5))<1e-6", "value": -6}, "value": -3}}},
               "y": {"field": "y", "type": "quantitative", "scale": {"domain": [-0.04, 0.027], "nice": false, "zero": false},
                     "axis": {"orient": "right", "values": [-0.04,-0.038,-0.036,-0.034,-0.032,-0.03,-0.028,-0.026,-0.024,-0.022,-0.02,-0.018,-0.016,-0.014,-0.012,-0.01,-0.008,-0.006,-0.004,-0.002,0,0.002,0.004,0.006,0.008,0.01,0.012,0.014,0.016,0.018,0.02,0.022,0.024,0.026], "labels": false, "title": null, "tickSize": {"condition": {"test": "abs(datum.value*100-round(datum.value*100))<1e-6", "value": -6}, "value": -3}}},
               "color": {"field": "m", "type": "nominal", "scale": {"domain": ["L","ML","LSTT","S0","S1"], "range": ["#000000","#1f77b4","#2ca02c","#ff7f0e","#d62728"]}, "legend": null},
               "shape": {"field": "m", "type": "nominal", "scale": {"domain": ["ML","LSTT","S0","S1"], "range": ["square","circle","triangle-down","triangle-left"]}, "legend": null}
             }}
          ],
          "resolve": {"axis": {"x": "independent", "y": "independent"}}
        },
        {
          "width": 393, "height": 290,
          "data": {"name": "d"},
          "transform": [{"filter": "datum.p==='cp'"}],
          "layer": [
            {"mark": {"type": "line", "clip": true, "interpolate": "monotone"},
             "encoding": {
               "x": {"field": "x", "type": "quantitative", "scale": {"domain": [0, 1], "nice": false, "zero": false},
                     "axis": {"orient": "bottom", "values": [0,0.05,0.1,0.15,0.2,0.25,0.3,0.35,0.4,0.45,0.5,0.55,0.6,0.65,0.7,0.75,0.8,0.85,0.9,0.95,1], "labelExpr": "abs(datum.value*5-round(datum.value*5))<1e-6 ? (datum.value<=0 ? '0' : datum.value>=1 ? '1' : replace(format(datum.value,'.1f'),'0.','.')) : ''", "tickSize": {"condition": {"test": "abs(datum.value*5-round(datum.value*5))<1e-6", "value": -6}, "value": -3}, "labelPadding": 12, "title": "x/c", "minExtent": 25, "maxExtent": 25, "titlePadding": 3}},
               "y": {"field": "y", "type": "quantitative", "scale": {"domain": [-4.37, 0.24], "reverse": true, "nice": false, "zero": false},
                     "axis": {"orient": "left", "values": [-4.2,-4,-3.8,-3.6,-3.4,-3.2,-3,-2.8,-2.6,-2.4,-2.2,-2,-1.8,-1.6,-1.4,-1.2,-1,-0.8,-0.6,-0.4,-0.2,0,0.2], "labelExpr": "abs(datum.value-round(datum.value))<1e-6 ? format(datum.value,'d') : ''", "tickSize": {"condition": {"test": "abs(datum.value-round(datum.value))<1e-6", "value": -6}, "value": -3}, "labelPadding": 10, "title": "Cp", "titleAngle": 0, "titleAlign": "right", "titleBaseline": "middle", "titleY": 127, "minExtent": 12, "maxExtent": 12, "titlePadding": 2}},
               "color": {"field": "m", "type": "nominal", "scale": {"domain": ["L","ML","LSTT","S0","S1"], "range": ["#000000","#1f77b4","#2ca02c","#ff7f0e","#d62728"]}, "legend": null},
               "strokeDash": {"field": "m", "type": "nominal", "scale": {"domain": ["S1","S0","LSTT","ML","L"], "range": [[7,4],[1,0],[2,2.5],[7,3,2,3],[1,0]]}, "legend": null},
               "strokeWidth": {"condition": {"test": "datum.m==='L'", "value": 2.2}, "value": 1.6}
             }},
            {"transform": [{"filter": "datum.k===1"}],
             "mark": {"type": "point", "clip": true, "filled": false, "opacity": 1, "strokeWidth": 1.6, "size": 60},
             "encoding": {
               "x": {"field": "x", "type": "quantitative", "scale": {"domain": [0, 1], "nice": false, "zero": false},
                     "axis": {"orient": "top", "values": [0,0.05,0.1,0.15,0.2,0.25,0.3,0.35,0.4,0.45,0.5,0.55,0.6,0.65,0.7,0.75,0.8,0.85,0.9,0.95,1], "labels": false, "title": null, "tickSize": {"condition": {"test": "abs(datum.value*5-round(datum.value*5))<1e-6", "value": -6}, "value": -3}}},
               "y": {"field": "y", "type": "quantitative", "scale": {"domain": [-4.37, 0.24], "reverse": true, "nice": false, "zero": false},
                     "axis": {"orient": "right", "values": [-4.2,-4,-3.8,-3.6,-3.4,-3.2,-3,-2.8,-2.6,-2.4,-2.2,-2,-1.8,-1.6,-1.4,-1.2,-1,-0.8,-0.6,-0.4,-0.2,0,0.2], "labels": false, "title": null, "tickSize": {"condition": {"test": "abs(datum.value-round(datum.value))<1e-6", "value": -6}, "value": -3}}},
               "color": {"field": "m", "type": "nominal", "scale": {"domain": ["L","ML","LSTT","S0","S1"], "range": ["#000000","#1f77b4","#2ca02c","#ff7f0e","#d62728"]}, "legend": null},
               "shape": {"field": "m", "type": "nominal", "scale": {"domain": ["ML","LSTT","S0","S1"], "range": ["square","circle","triangle-down","triangle-left"]}, "legend": null}
             }},
            {"transform": [{"filter": "datum.k===2"}],
             "mark": {"type": "point", "filled": false, "opacity": 1, "strokeWidth": 1.6},
             "encoding": {
               "color": {"field": "m", "type": "nominal", "scale": {"domain": ["L","ML","LSTT","S0","S1"], "range": ["#000000","#1f77b4","#2ca02c","#ff7f0e","#d62728"]},
                         "legend": {"orient": "top-right", "offset": 9, "title": null, "padding": 7, "fillColor": "#ffffff", "strokeColor": "#cccccc", "cornerRadius": 4, "symbolSize": 1600, "symbolStrokeWidth": 1.6, "clipHeight": 22, "rowPadding": 4, "labelOffset": 11, "labelFont": "Liberation Serif, DejaVu Serif", "labelFontSize": 20, "labelColor": "#000000", "labelLimit": 400,
                                    "labelExpr": "datum.value==='L' ? 'LES' : datum.value==='ML' ? 'Menter-Langtry' : datum.value==='LSTT' ? 'Wilcox 2006 LSTT' : datum.value==='S0' ? 'Wilcox 2006 Step Cₗᵢₘ = 0' : 'Wilcox 2006 Step Cₗᵢₘ = 1'"}},
               "shape": {"field": "m", "type": "nominal",
                         "scale": {"domain": ["L","ML","LSTT","S0","S1"], "range": [
                           "M-1,-0.02H1V0.02H-1Z",
                           "M-1,0H-0.62M-0.47,0H-0.37M-0.2,-0.2H0.2V0.2H-0.2ZM0.37,0H0.47M0.62,0H1",
                           "M-1,0H-0.93M-0.8,0H-0.73M-0.6,0H-0.53M-0.4,0H-0.33M-0.2,0A0.2,0.2 0 1 0 0.2,0A0.2,0.2 0 1 0 -0.2,0ZM0.33,0H0.4M0.53,0H0.6M0.73,0H0.8M0.93,0H1",
                           "M-1,0H-0.12M0.12,0H1M-0.22,-0.19H0.22L0,0.19Z",
                           "M-1,0H-0.7M-0.45,0H-0.21M-0.19,0L0.19,-0.22V0.22ZM0.25,0H0.5M0.72,0H1"]},
                         "legend": {"orient": "top-right", "offset": 9, "title": null, "padding": 7, "fillColor": "#ffffff", "strokeColor": "#cccccc", "cornerRadius": 4, "symbolSize": 1600, "symbolStrokeWidth": 1.6, "clipHeight": 22, "rowPadding": 4, "labelOffset": 11, "labelFont": "Liberation Serif, DejaVu Serif", "labelFontSize": 20, "labelColor": "#000000", "labelLimit": 400,
                                    "labelExpr": "datum.value==='L' ? 'LES' : datum.value==='ML' ? 'Menter-Langtry' : datum.value==='LSTT' ? 'Wilcox 2006 LSTT' : datum.value==='S0' ? 'Wilcox 2006 Step Cₗᵢₘ = 0' : 'Wilcox 2006 Step Cₗᵢₘ = 1'"}}
             }}
          ],
          "resolve": {"axis": {"x": "independent", "y": "independent"}, "scale": {"color": "independent", "shape": "independent"}, "legend": {"color": "independent", "shape": "independent"}}
        }
      ],
      "spacing": 27,
      "resolve": {"scale": {"color": "independent", "shape": "independent", "strokeDash": "independent"}, "legend": {"color": "independent", "shape": "independent", "strokeDash": "independent"}}
    },
    {
      "hconcat": [
        {
          "width": 374, "height": 290,
          "data": {"name": "d"},
          "transform": [{"filter": "datum.p==='re'"}],
          "layer": [
            {"mark": {"type": "line", "clip": true, "interpolate": "monotone"},
             "encoding": {
               "x": {"field": "x", "type": "quantitative", "scale": {"domain": [0, 1], "nice": false, "zero": false},
                     "axis": {"orient": "bottom", "values": [0,0.05,0.1,0.15,0.2,0.25,0.3,0.35,0.4,0.45,0.5,0.55,0.6,0.65,0.7,0.75,0.8,0.85,0.9,0.95,1], "labelExpr": "abs(datum.value*5-round(datum.value*5))<1e-6 ? (datum.value<=0 ? '0' : datum.value>=1 ? '1' : replace(format(datum.value,'.1f'),'0.','.')) : ''", "tickSize": {"condition": {"test": "abs(datum.value*5-round(datum.value*5))<1e-6", "value": -6}, "value": -3}, "labelPadding": 12, "title": "x/c", "minExtent": 25, "maxExtent": 25, "titlePadding": 3}},
               "y": {"field": "y", "type": "quantitative", "scale": {"domain": [0, 2000], "nice": false, "zero": false},
                     "axis": {"orient": "left", "values": [0,100,200,300,400,500,600,700,800,900,1000,1100,1200,1300,1400,1500,1600,1700,1800,1900,2000], "labelExpr": "datum.value%500===0 ? format(datum.value,'d') : ''", "tickSize": {"condition": {"test": "datum.value%500===0", "value": -6}, "value": -3}, "labelPadding": 10, "title": "Reθ", "titleAngle": 0, "titleAlign": "right", "titleBaseline": "middle", "titleY": 136, "minExtent": 44, "maxExtent": 44, "titlePadding": 2}},
               "color": {"field": "m", "type": "nominal", "scale": {"domain": ["L","ML","LSTT","S0","S1"], "range": ["#000000","#1f77b4","#2ca02c","#ff7f0e","#d62728"]}, "legend": null},
               "strokeDash": {"field": "m", "type": "nominal", "scale": {"domain": ["S1","S0","LSTT","ML","L"], "range": [[7,4],[1,0],[2,2.5],[7,3,2,3],[1,0]]}, "legend": null},
               "strokeWidth": {"condition": {"test": "datum.m==='L'", "value": 2.2}, "value": 1.6}
             }},
            {"transform": [{"filter": "datum.k===1"}],
             "mark": {"type": "point", "clip": true, "filled": false, "opacity": 1, "strokeWidth": 1.6, "size": 60},
             "encoding": {
               "x": {"field": "x", "type": "quantitative", "scale": {"domain": [0, 1], "nice": false, "zero": false},
                     "axis": {"orient": "top", "values": [0,0.05,0.1,0.15,0.2,0.25,0.3,0.35,0.4,0.45,0.5,0.55,0.6,0.65,0.7,0.75,0.8,0.85,0.9,0.95,1], "labels": false, "title": null, "tickSize": {"condition": {"test": "abs(datum.value*5-round(datum.value*5))<1e-6", "value": -6}, "value": -3}}},
               "y": {"field": "y", "type": "quantitative", "scale": {"domain": [0, 2000], "nice": false, "zero": false},
                     "axis": {"orient": "right", "values": [0,100,200,300,400,500,600,700,800,900,1000,1100,1200,1300,1400,1500,1600,1700,1800,1900,2000], "labels": false, "title": null, "tickSize": {"condition": {"test": "datum.value%500===0", "value": -6}, "value": -3}}},
               "color": {"field": "m", "type": "nominal", "scale": {"domain": ["L","ML","LSTT","S0","S1"], "range": ["#000000","#1f77b4","#2ca02c","#ff7f0e","#d62728"]}, "legend": null},
               "shape": {"field": "m", "type": "nominal", "scale": {"domain": ["ML","LSTT","S0","S1"], "range": ["square","circle","triangle-down","triangle-left"]}, "legend": null}
             }}
          ],
          "resolve": {"axis": {"x": "independent", "y": "independent"}}
        },
        {
          "width": 393, "height": 290,
          "data": {"name": "d"},
          "transform": [{"filter": "datum.p==='h'"}],
          "layer": [
            {"mark": {"type": "line", "clip": true, "interpolate": "monotone"},
             "encoding": {
               "x": {"field": "x", "type": "quantitative", "scale": {"domain": [0, 1], "nice": false, "zero": false},
                     "axis": {"orient": "bottom", "values": [0,0.05,0.1,0.15,0.2,0.25,0.3,0.35,0.4,0.45,0.5,0.55,0.6,0.65,0.7,0.75,0.8,0.85,0.9,0.95,1], "labelExpr": "abs(datum.value*5-round(datum.value*5))<1e-6 ? (datum.value<=0 ? '0' : datum.value>=1 ? '1' : replace(format(datum.value,'.1f'),'0.','.')) : ''", "tickSize": {"condition": {"test": "abs(datum.value*5-round(datum.value*5))<1e-6", "value": -6}, "value": -3}, "labelPadding": 12, "title": "x/c", "minExtent": 25, "maxExtent": 25, "titlePadding": 3}},
               "y": {"field": "y", "type": "quantitative", "scale": {"domain": [1.09, 12.43], "nice": false, "zero": false},
                     "axis": {"orient": "left", "values": [1.5,2,2.5,3,3.5,4,4.5,5,5.5,6,6.5,7,7.5,8,8.5,9,9.5,10,10.5,11,11.5,12], "labelExpr": "datum.value%2===0 ? format(datum.value,'d') : ''", "tickSize": {"condition": {"test": "datum.value%2===0", "value": -6}, "value": -3}, "labelPadding": 10, "title": "H", "titleAngle": 0, "titleAlign": "right", "titleBaseline": "middle", "titleY": 140, "minExtent": 21, "maxExtent": 21, "titlePadding": 2}},
               "color": {"field": "m", "type": "nominal", "scale": {"domain": ["L","ML","LSTT","S0","S1"], "range": ["#000000","#1f77b4","#2ca02c","#ff7f0e","#d62728"]}, "legend": null},
               "strokeDash": {"field": "m", "type": "nominal", "scale": {"domain": ["S1","S0","LSTT","ML","L"], "range": [[7,4],[1,0],[2,2.5],[7,3,2,3],[1,0]]}, "legend": null},
               "strokeWidth": {"condition": {"test": "datum.m==='L'", "value": 2.2}, "value": 1.6}
             }},
            {"transform": [{"filter": "datum.k===1"}],
             "mark": {"type": "point", "clip": true, "filled": false, "opacity": 1, "strokeWidth": 1.6, "size": 60},
             "encoding": {
               "x": {"field": "x", "type": "quantitative", "scale": {"domain": [0, 1], "nice": false, "zero": false},
                     "axis": {"orient": "top", "values": [0,0.05,0.1,0.15,0.2,0.25,0.3,0.35,0.4,0.45,0.5,0.55,0.6,0.65,0.7,0.75,0.8,0.85,0.9,0.95,1], "labels": false, "title": null, "tickSize": {"condition": {"test": "abs(datum.value*5-round(datum.value*5))<1e-6", "value": -6}, "value": -3}}},
               "y": {"field": "y", "type": "quantitative", "scale": {"domain": [1.09, 12.43], "nice": false, "zero": false},
                     "axis": {"orient": "right", "values": [1.5,2,2.5,3,3.5,4,4.5,5,5.5,6,6.5,7,7.5,8,8.5,9,9.5,10,10.5,11,11.5,12], "labels": false, "title": null, "tickSize": {"condition": {"test": "datum.value%2===0", "value": -6}, "value": -3}}},
               "color": {"field": "m", "type": "nominal", "scale": {"domain": ["L","ML","LSTT","S0","S1"], "range": ["#000000","#1f77b4","#2ca02c","#ff7f0e","#d62728"]}, "legend": null},
               "shape": {"field": "m", "type": "nominal", "scale": {"domain": ["ML","LSTT","S0","S1"], "range": ["square","circle","triangle-down","triangle-left"]}, "legend": null}
             }}
          ],
          "resolve": {"axis": {"x": "independent", "y": "independent"}}
        }
      ],
      "spacing": 27,
      "resolve": {"scale": {"color": "independent", "shape": "independent", "strokeDash": "independent"}, "legend": {"color": "independent", "shape": "independent", "strokeDash": "independent"}}
    }
  ],
  "spacing": 9,
  "resolve": {"scale": {"color": "independent", "shape": "independent", "strokeDash": "independent"}, "legend": {"color": "independent", "shape": "independent", "strokeDash": "independent"}},
  "config": {
    "font": "Liberation Serif",
    "view": {"stroke": "#000000", "strokeWidth": 1.3},
    "axis": {"domain": false, "grid": false, "ticks": true, "tickColor": "#000000", "tickWidth": 1, "labelFont": "Liberation Serif", "labelFontSize": 19, "labelColor": "#000000", "labelFlush": false, "labelOverlap": false, "titleFont": "Liberation Serif, DejaVu Serif", "titleFontSize": 21, "titleFontWeight": "bold", "titleFontStyle": "italic", "titleColor": "#000000"},
    "title": {"font": "DejaVu Serif", "fontSize": 22, "fontWeight": "bold", "color": "#000000"}
  }
}
